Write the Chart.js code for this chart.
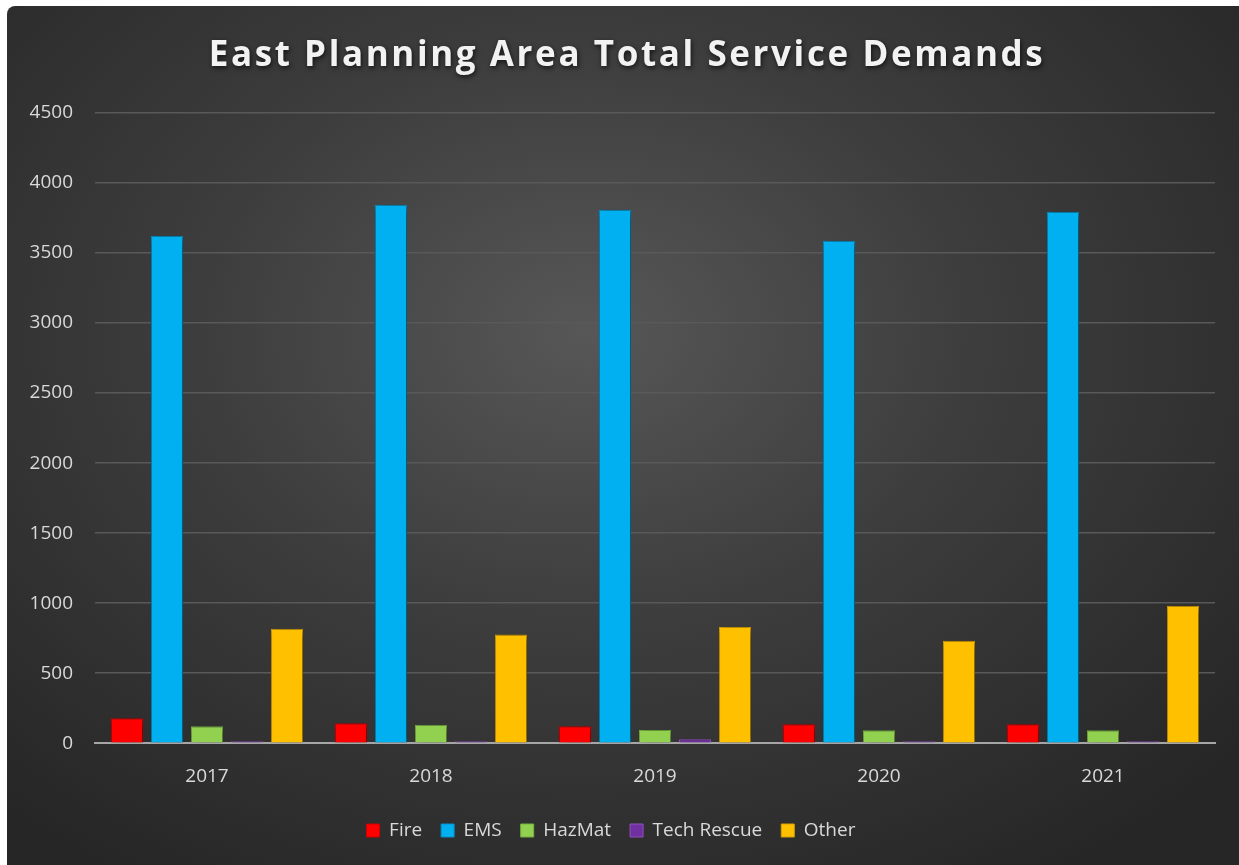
<!DOCTYPE html>
<html>
<head>
<meta charset="utf-8">
<script src="https://cdn.jsdelivr.net/npm/chart.js@4"></script>
<style>
  html, body { margin: 0; padding: 0; background: #fff; }
  #card {
    position: absolute; left: 7px; top: 6px; width: 1232px; height: 859px;
    border-radius: 8px 0 0 0;
    background: radial-gradient(ellipse 70% 75% at 47% 38%, #575757 0%, #3d3d3d 45%, #262626 100%);
  }
  canvas { display: block; }
</style>
</head>
<body>
<div id="card"><canvas id="chart" width="1232" height="859"></canvas></div>
<script>
const years = ["2017", "2018", "2019", "2020", "2021"];
const fire = [178, 143, 121, 136, 136];
const ems = [3623, 3844, 3809, 3588, 3795];
const hazmat = [121, 131, 95, 93, 93];
const techRescue = [5, 9, 28, 14, 9];
const other = [818, 777, 830, 732, 982];
const yTicks = [0, 500, 1000, 1500, 2000, 2500, 3000, 3500, 4000, 4500];

const chartTitle = "East Planning Area Total Service Demands";
const fontFam = "'Open Sans', 'Noto Sans', sans-serif";

const titlePlugin = {
    id: "spacedTitle",
    afterDraw(chart) {
        const ctx = chart.ctx;
        ctx.save();
        ctx.font = "bold 35px " + fontFam;
        ctx.letterSpacing = "2.6px";
        ctx.textAlign = "center";
        ctx.textBaseline = "middle";
        ctx.shadowColor = "rgba(0,0,0,0.7)";
        ctx.shadowBlur = 5;
        ctx.shadowOffsetX = 1;
        ctx.shadowOffsetY = 2;
        ctx.fillStyle = "#f2f2f2";
        ctx.fillText(chartTitle, 620, 50);
        ctx.restore();
    }
};

const barShadow = {
    id: "barShadow",
    beforeDatasetsDraw(chart) {
        const ctx = chart.ctx;
        ctx.save();
        ctx.shadowColor = "rgba(0,0,0,0.55)";
        ctx.shadowBlur = 8;
        ctx.shadowOffsetX = 2;
        ctx.shadowOffsetY = 2;
    },
    afterDatasetsDraw(chart) {
        chart.ctx.restore();
    }
};

const mk = (label, data, color, border) => ({
    label, data, backgroundColor: color, borderColor: border, borderWidth: 1,
    minBarLength: 2,
    categoryPercentage: 0.893, barPercentage: 0.8
});

new Chart(document.getElementById("chart"), {
    type: "bar",
    data: {
        labels: years,
        datasets: [
            mk("Fire", fire, "#ff0000", "#d00000"),
            mk("EMS", ems, "#00b0f0", "#0090c8"),
            mk("HazMat", hazmat, "#92d050", "#76b040"),
            mk("Tech Rescue", techRescue, "#7030a0", "#9050c0"),
            mk("Other", other, "#ffc000", "#d8a000"),
        ]
    },
    options: {
        responsive: false,
        animation: false,
        layout: { padding: { top: 107, right: 24, left: 0, bottom: 15 } },
        plugins: {
            title: { display: false },
            tooltip: { enabled: false },
            legend: {
                position: "bottom",
                labels: {
                    color: "#d9d9d9",
                    font: { size: 19, family: fontFam },
                    boxWidth: 13, boxHeight: 13, padding: 19
                }
            }
        },
        scales: {
            x: {
                grid: { display: false },
                border: { color: "#a6a6a6", width: 2 },
                ticks: { color: "#d9d9d9", font: { size: 19, family: fontFam }, padding: 14 }
            },
            y: {
                min: 0, max: 4500,
                afterBuildTicks: (axis) => { axis.ticks = yTicks.map(v => ({ value: v })); },
                afterFit: (axis) => { axis.width = 88; },
                grid: { color: "#595959", lineWidth: 1.5, drawTicks: false },
                border: { display: false },
                ticks: {
                    color: "#d9d9d9", font: { size: 19, family: fontFam }, padding: 22,
                    callback: (v) => String(v)
                }
            }
        }
    },
    plugins: [barShadow, titlePlugin]
});
</script>
</body>
</html>
